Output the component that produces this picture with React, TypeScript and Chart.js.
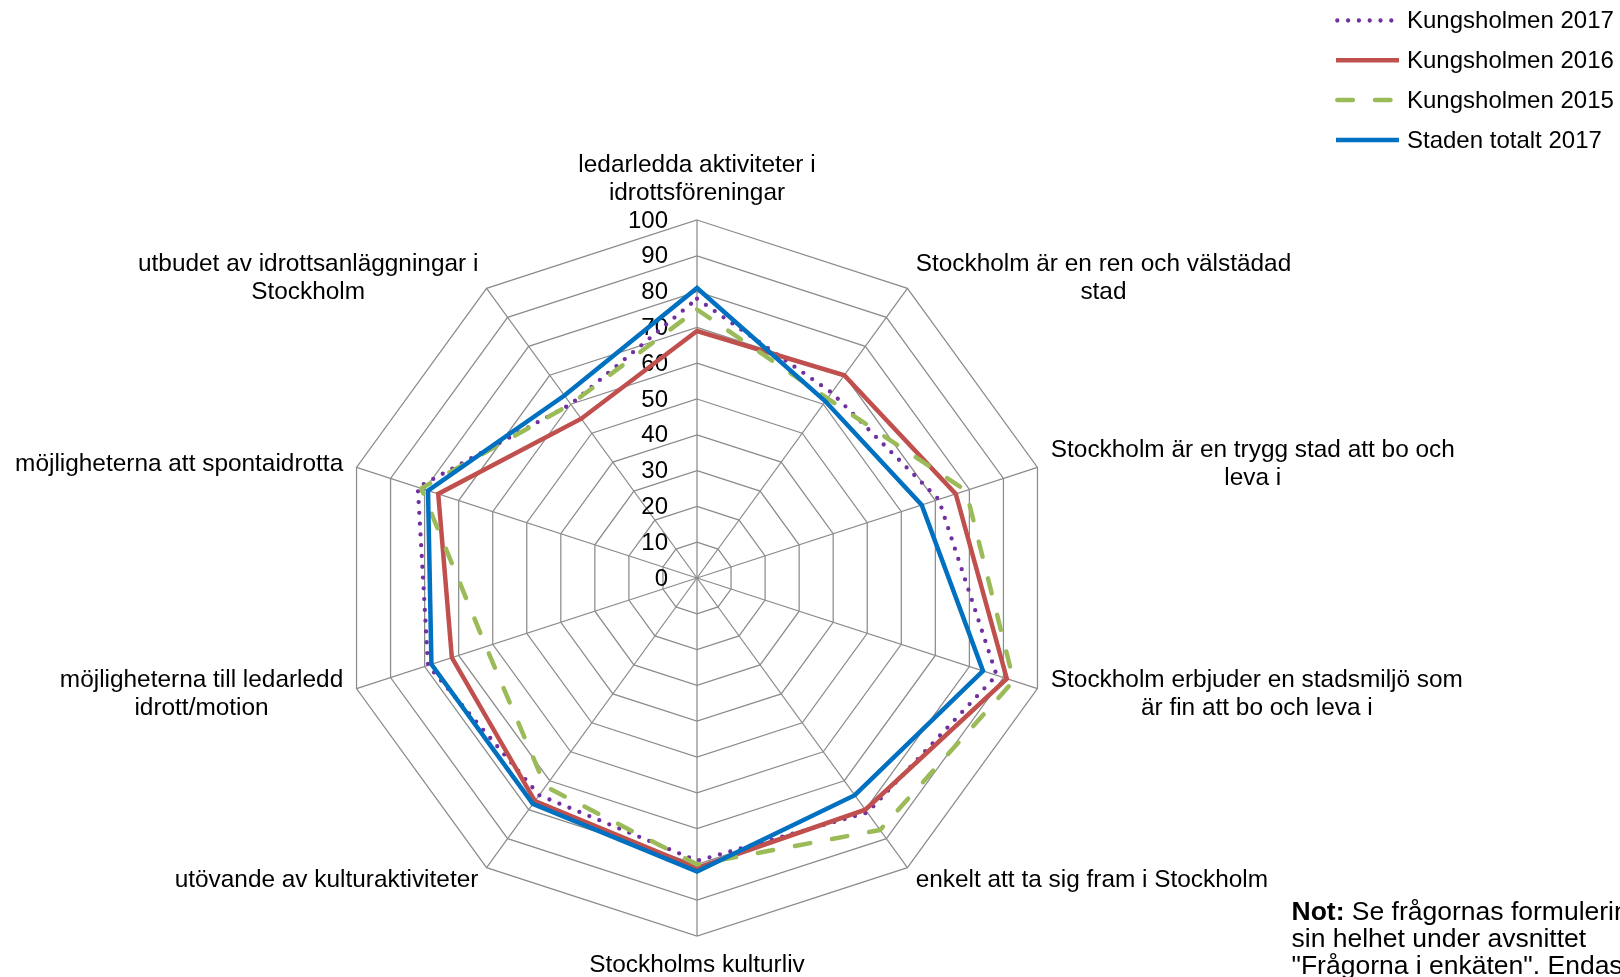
import React, { useEffect, useRef } from "react";
import { Chart, registerables } from "chart.js";

Chart.register(...registerables);

// ---------- data ----------
const categories: string[][] = [
  ["ledarledda aktiviteter i", "idrottsföreningar"],
  ["Stockholm är en ren och välstädad", "stad"],
  ["Stockholm är en trygg stad att bo och", "leva i"],
  ["Stockholm erbjuder en stadsmiljö som", "är fin att bo och leva i"],
  ["enkelt att ta sig fram i Stockholm"],
  ["Stockholms kulturliv"],
  ["utövande av kulturaktiviteter"],
  ["möjligheterna till ledarledd", "idrott/motion"],
  ["möjligheterna att spontaidrotta"],
  ["utbudet av idrottsanläggningar i", "Stockholm"],
];

const seriesNames = [
  "Kungsholmen 2017",
  "Kungsholmen 2016",
  "Kungsholmen 2015",
  "Staden totalt 2017",
];

const kungsholmen2017 = [78, 64, 71, 88, 81, 79, 75, 79, 82, 60];
const kungsholmen2016 = [69, 70, 76, 91, 80, 81, 77, 72, 76, 55];
const kungsholmen2015 = [75, 62, 79, 93, 87, 80, 72, 62, 81, 60];
const stadenTotalt2017 = [81, 61, 66, 84, 75, 82, 78, 78, 79, 63];

const tickMin = 0;
const tickMax = 100;
const tickStep = 10;

const noteBold = "Not:";
const noteLines = [
  " Se frågornas formulering i",
  "sin helhet under avsnittet",
  "\"Frågorna i enkäten\". Endast",
];

// ---------- styles ----------
const FONT = '"Liberation Sans", Arial, Helvetica, sans-serif';
const GRID = "#8c8c8c";

const textPlugin = {
  id: "excelText",
  beforeDatasetsDraw(chart: any) {
    const scale = chart.scales.r;
    const ctx: CanvasRenderingContext2D = chart.ctx;
    ctx.save();
    ctx.font = `24px ${FONT}`;
    ctx.fillStyle = "#000";
    ctx.textAlign = "right";
    ctx.textBaseline = "middle";
    scale.ticks.forEach((t: any) => {
      const d = scale.getDistanceFromCenterForValue(t.value);
      const p = scale.getPointPosition(0, d);
      ctx.fillText(String(t.value), p.x - 29, p.y + 1);
    });
    ctx.restore();
  },
  afterDraw(chart: any) {
    const scale = chart.scales.r;
    const ctx: CanvasRenderingContext2D = chart.ctx;
    const n = categories.length;
    const lineH = 28;
    ctx.save();
    ctx.font = `24.4px ${FONT}`;
    ctx.fillStyle = "#000";
    ctx.textAlign = "center";
    ctx.textBaseline = "middle";
    // point labels (Excel-like: box placed beyond outer ring, text centred in box)
    categories.forEach((lines, i) => {
      const p = scale.getPointPosition(i, scale.drawingArea + 14);
      const boxW = Math.max(...lines.map((l) => ctx.measureText(l).width));
      const boxH = lines.length * lineH;
      const angle = (i * 360) / n;
      let cx = p.x;
      if (angle > 0 && angle < 180) cx = p.x + boxW / 2;
      else if (angle > 180) cx = p.x - boxW / 2;
      let top = p.y - boxH / 2;
      if (angle === 0) top = p.y - boxH;
      else if (angle === 180) top = p.y;
      lines.forEach((l, k) => {
        ctx.fillText(l, cx, top + lineH * k + lineH / 2 + 1);
      });
    });

    // legend
    ctx.font = `24px ${FONT}`;
    chart.data.datasets.forEach((ds: any, i: number) => {
      const y = 20.5 + 39.8 * i;
      ctx.save();
      ctx.strokeStyle = ds.borderColor;
      ctx.lineWidth = ds.borderWidth;
      ctx.lineCap = ds.borderCapStyle || "butt";
      ctx.setLineDash(ds.borderDash || []);
      ctx.beginPath();
      const x0 = ds.borderDash && ds.borderDash.length ? 1337.3 : 1336;
      ctx.moveTo(x0, y);
      ctx.lineTo(1399, y);
      ctx.stroke();
      ctx.restore();
      ctx.textAlign = "left";
      ctx.fillText(ds.label, 1407, y + 1);
    });

    // note
    ctx.textAlign = "left";
    ctx.font = `bold 26.5px ${FONT}`;
    const nx = 1291.5;
    ctx.fillText(noteBold, nx, 913);
    const bw = ctx.measureText(noteBold).width;
    ctx.font = `26.5px ${FONT}`;
    ctx.fillText(noteLines[0], nx + bw, 913);
    ctx.fillText(noteLines[1], nx, 940);
    ctx.fillText(noteLines[2], nx, 967);
    ctx.restore();
  },
};

export default function App() {
  const ref = useRef<HTMLCanvasElement>(null);
  useEffect(() => {
    const canvas = ref.current!;
    const common = {
      fill: false,
      pointRadius: 0,
      pointHoverRadius: 0,
      tension: 0,
    };
    const chart = new Chart(canvas, {
      type: "radar",
      data: {
        labels: categories,
        datasets: [
          {
            ...common,
            label: seriesNames[0],
            data: kungsholmen2017,
            borderColor: "#7030A0",
            borderWidth: 4.3,
            borderDash: [0, 10.8],
            borderCapStyle: "round",
            borderJoinStyle: "round",
            order: 4,
          },
          {
            ...common,
            label: seriesNames[1],
            data: kungsholmen2016,
            borderColor: "#C0504D",
            borderWidth: 4.5,
            borderJoinStyle: "miter",
            order: 3,
          },
          {
            ...common,
            label: seriesNames[2],
            data: kungsholmen2015,
            borderColor: "#9BBB59",
            borderWidth: 4.5,
            borderDash: [15.5, 22.2],
            borderCapStyle: "round",
            borderJoinStyle: "round",
            order: 2,
          },
          {
            ...common,
            label: seriesNames[3],
            data: stadenTotalt2017,
            borderColor: "#0070C0",
            borderWidth: 4.5,
            borderJoinStyle: "miter",
            order: 1,
          },
        ] as any,
      },
      options: {
        responsive: false,
        animation: false,
        devicePixelRatio: 1,
        layout: { padding: { left: 339, top: 220, right: 565, bottom: 41 } },
        plugins: {
          legend: { display: false },
          tooltip: { enabled: false },
        },
        scales: {
          r: {
            min: tickMin,
            max: tickMax,
            beginAtZero: true,
            ticks: { display: false, stepSize: tickStep },
            grid: { circular: false, color: GRID, lineWidth: 1.25 },
            angleLines: { display: true, color: GRID, lineWidth: 1.25 },
            pointLabels: { display: false },
          },
        },
      } as any,
      plugins: [textPlugin],
    });
    return () => chart.destroy();
  }, []);
  return (
    <div
      style={{
        position: "fixed",
        left: 0,
        top: 0,
        width: 1620,
        height: 977,
        background: "#fff",
        overflow: "hidden",
      }}
    >
      <canvas
        ref={ref}
        width={1620}
        height={977}
        style={{ display: "block", width: 1620, height: 977 }}
      />
    </div>
  );
}
